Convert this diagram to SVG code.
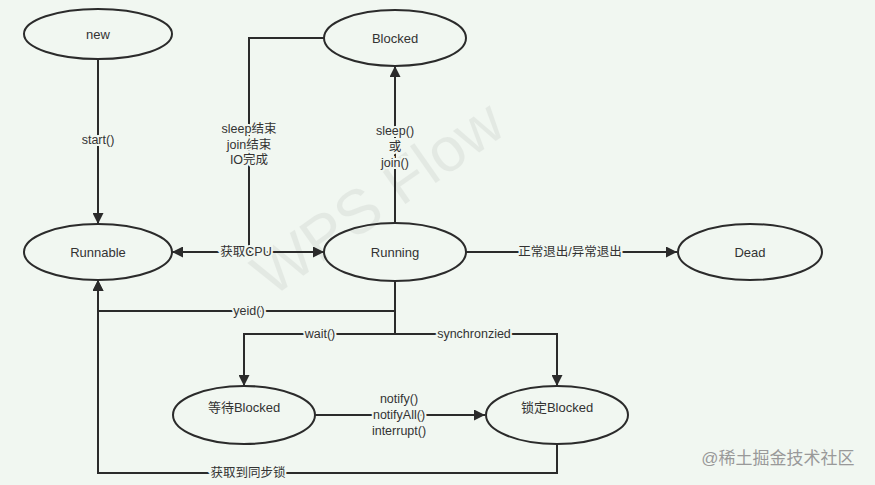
<svg xmlns="http://www.w3.org/2000/svg" width="875" height="485" viewBox="0 0 875 485">
<style>
.n{fill:none;stroke:#2b2b2b;stroke-width:2}
.e{stroke:#2b2b2b;stroke-width:2;fill:none}
.t{font-family:"Liberation Sans","Noto Sans CJK SC",sans-serif;font-size:13px;fill:#333;text-anchor:middle;dominant-baseline:central}
.l{font-family:"Liberation Sans","Noto Sans CJK SC",sans-serif;font-size:12.5px;fill:#333;text-anchor:middle;dominant-baseline:central;stroke:#f1f7f1;stroke-width:4;paint-order:stroke}
</style>
<defs>
<marker id="a" viewBox="0 0 10 10" refX="10" refY="5" markerWidth="5.5" markerHeight="5.5" orient="auto" markerUnits="strokeWidth">
<path d="M0,0L10,5L0,10z" fill="#2b2b2b"/>
</marker>
</defs>
<rect width="875" height="485" fill="#f1f7f1"/>
<g opacity="0.05" font-family="Liberation Sans,sans-serif" fill="#000">
<text x="390" y="215" font-size="62" transform="rotate(-35 390 215)" text-anchor="middle">WPS Flow</text>
</g>
<g id="connectors">
<path class="e" d="M98,59V224" marker-end="url(#a)"/>
<path class="e" d="M324,38H249V252H172" marker-end="url(#a)"/>
<path class="e" d="M172,252H324" marker-end="url(#a)"/>
<path class="e" d="M395,223V66" marker-end="url(#a)"/>
<path class="e" d="M466,252H677" marker-end="url(#a)"/>
<path class="e" d="M395,281V311H98V280" marker-end="url(#a)"/>
<path class="e" d="M395,311V334H244V386" marker-end="url(#a)"/>
<path class="e" d="M395,334H557V386" marker-end="url(#a)"/>
<path class="e" d="M315,415H485" marker-end="url(#a)"/>
<path class="e" d="M557,444V473H98V280" marker-end="url(#a)"/>
<text class="l" x="98" y="140">start()</text>
<text class="l" x="249" y="129">sleep结束</text>
<text class="l" x="249" y="145">join结束</text>
<text class="l" x="249" y="160">IO完成</text>
<text class="l" x="246" y="252">获取CPU</text>
<text class="l" x="395" y="131">sleep()</text>
<text class="l" x="395" y="147">或</text>
<text class="l" x="395" y="163">join()</text>
<text class="l" x="570" y="252">正常退出/异常退出</text>
<text class="l" x="249" y="311">yeid()</text>
<text class="l" x="320" y="334">wait()</text>
<text class="l" x="474" y="334">synchronzied</text>
<text class="l" x="399" y="399">notify()</text>
<text class="l" x="399" y="415">notifyAll()</text>
<text class="l" x="399" y="431">interrupt()</text>
<text class="l" x="248" y="473">获取到同步锁</text>
</g>
<g id="new"><ellipse class="n" cx="98" cy="34" rx="74" ry="25"/><text class="t" x="98" y="34">new</text></g>
<g id="blocked"><ellipse class="n" cx="395" cy="38" rx="71" ry="28"/><text class="t" x="395" y="38">Blocked</text></g>
<g id="runnable"><ellipse class="n" cx="98" cy="252" rx="74" ry="28"/><text class="t" x="98" y="252">Runnable</text></g>
<g id="running"><ellipse class="n" cx="395" cy="252" rx="71" ry="29"/><text class="t" x="395" y="252">Running</text></g>
<g id="dead"><ellipse class="n" cx="750" cy="252" rx="72" ry="28"/><text class="t" x="750" y="252">Dead</text></g>
<g id="wait-blocked"><ellipse class="n" cx="244" cy="415" rx="71" ry="29"/><text class="t" x="244" y="407">等待Blocked</text></g>
<g id="lock-blocked"><ellipse class="n" cx="557" cy="415" rx="71" ry="29"/><text class="t" x="557" y="407">锁定Blocked</text></g>
<text x="778" y="464" font-family="Liberation Sans,'Noto Sans CJK SC',sans-serif" font-size="17" fill="#999" text-anchor="middle">@稀土掘金技术社区</text>
</svg>
